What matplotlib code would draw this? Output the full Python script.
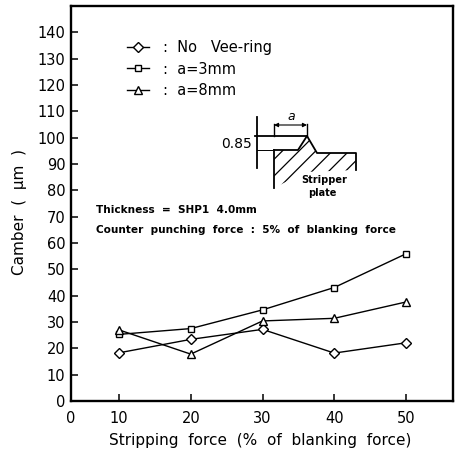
import matplotlib
matplotlib.use("Agg")
import matplotlib.pyplot as plt
from matplotlib.patches import Polygon

plt.rcParams['hatch.linewidth'] = 0.9

stripping = [10, 20, 30, 40, 50]
no_vee = [18.3, 23.4, 27.2, 18.2, 22.1]
a_3mm = [25.3, 27.5, 34.6, 43.1, 55.9]
a_8mm = [27.0, 17.8, 30.4, 31.4, 37.6]

# the axis of the original starts at "0" but 0-10 is squeezed, so the origin sits at 3.3
x_ticks = [3.31, 10, 20, 30, 40, 50]
x_tick_labels = ['0', '10', '20', '30', '40', '50']
y_ticks = list(range(0, 150, 10))

W, H = 455, 451
fig = plt.figure(figsize=(W / 100, H / 100), dpi=100)
ax = fig.add_axes([71 / W, (H - 401) / H, (453 - 71) / W, (401 - 6) / H])

line_kw = dict(color='black', lw=1.0, mfc='white', mec='black', mew=1.0, clip_on=False)
ax.plot(stripping, no_vee, marker='D', ms=4.6, label=':  No   Vee-ring', **line_kw)
ax.plot(stripping, a_3mm, marker='s', ms=4.8, label=':  a=3mm', **line_kw)
ax.plot(stripping, a_8mm, marker='^', ms=5.8, label=':  a=8mm', **line_kw)

ax.set_xlim(3.31, 56.55)
ax.set_ylim(0, 150)
ax.set_xticks(x_ticks)
ax.set_xticklabels(x_tick_labels)
ax.set_yticks(y_ticks)
ax.tick_params(direction='in', length=5, width=1.1, labelsize=10.5)
ax.tick_params(axis='y', pad=4)
ax.tick_params(axis='x', pad=7)
for s in ax.spines.values():
    s.set_linewidth(1.7)

ax.set_xlabel('Stripping  force  (%  of  blanking  force)', fontsize=11)
ax.xaxis.set_label_coords((260 - 71) / 382, -(441 - 401) / 395, transform=ax.transAxes)
ax.xaxis.label.set_va('center')
ax.set_ylabel('Camber  (  µm  )', fontsize=11)
ax.yaxis.set_label_coords((20 - 71) / 382, (401 - 212) / 395, transform=ax.transAxes)
ax.yaxis.label.set_va('center')

ax.legend(loc='upper left', bbox_to_anchor=((127 - 71) / 382, (401 - 40) / 395), frameon=False,
          fontsize=10.5, handlelength=1.5, handletextpad=0.95, labelspacing=0.45,
          borderaxespad=0, borderpad=0)

# overlay in pixel coordinates for the notes and the stripper plate sketch
ov = fig.add_axes([0, 0, 1, 1], facecolor='none')
ov.set_xlim(0, W)
ov.set_ylim(H, 0)
ov.axis('off')

ov.text(96, 210, 'Thickness  =  SHP1  4.0mm', fontsize=7.6, fontweight='bold', va='center')
ov.text(96, 230, 'Counter  punching  force  :  5%  of  blanking  force', fontsize=7.6,
        fontweight='bold', va='center')

plate = [(274, 150), (298, 150), (307, 136), (317, 153), (356, 153), (356, 170), (305, 172), (274, 188)]
ov.add_patch(Polygon(plate, closed=True, fc='white', ec='black', hatch='//', lw=0))
ov.plot([274, 298, 307, 317, 356, 356], [150, 150, 136, 153, 153, 170], color='black', lw=1.3)
ov.plot([274, 274], [150, 188], color='black', lw=1.3)
ov.plot([257, 257], [117, 168], color='black', lw=1.3)
ov.plot([255, 307], [136, 136], color='black', lw=1.3)
ov.plot([257, 272], [150, 150], color='black', lw=0.7)
ov.plot([274, 274], [124, 136], color='black', lw=1.0)
ov.plot([307, 307], [124, 136], color='black', lw=1.0)
ov.annotate('', xy=(274, 125), xytext=(307, 125),
            arrowprops=dict(arrowstyle='<|-|>', color='black', lw=0.8, mutation_scale=6, shrinkA=0, shrinkB=0))
ov.text(291, 117, 'a', fontsize=9, style='italic', ha='center', va='center')
ov.text(237, 144, '0.85', fontsize=10, ha='center', va='center')
ov.text(324, 180, 'Stripper', fontsize=7, fontweight='bold', ha='center', va='center',
        bbox=dict(fc='white', ec='none', pad=0.8))
ov.text(322, 193, 'plate', fontsize=7, fontweight='bold', ha='center', va='center')

fig.savefig('out.png', dpi=100)
